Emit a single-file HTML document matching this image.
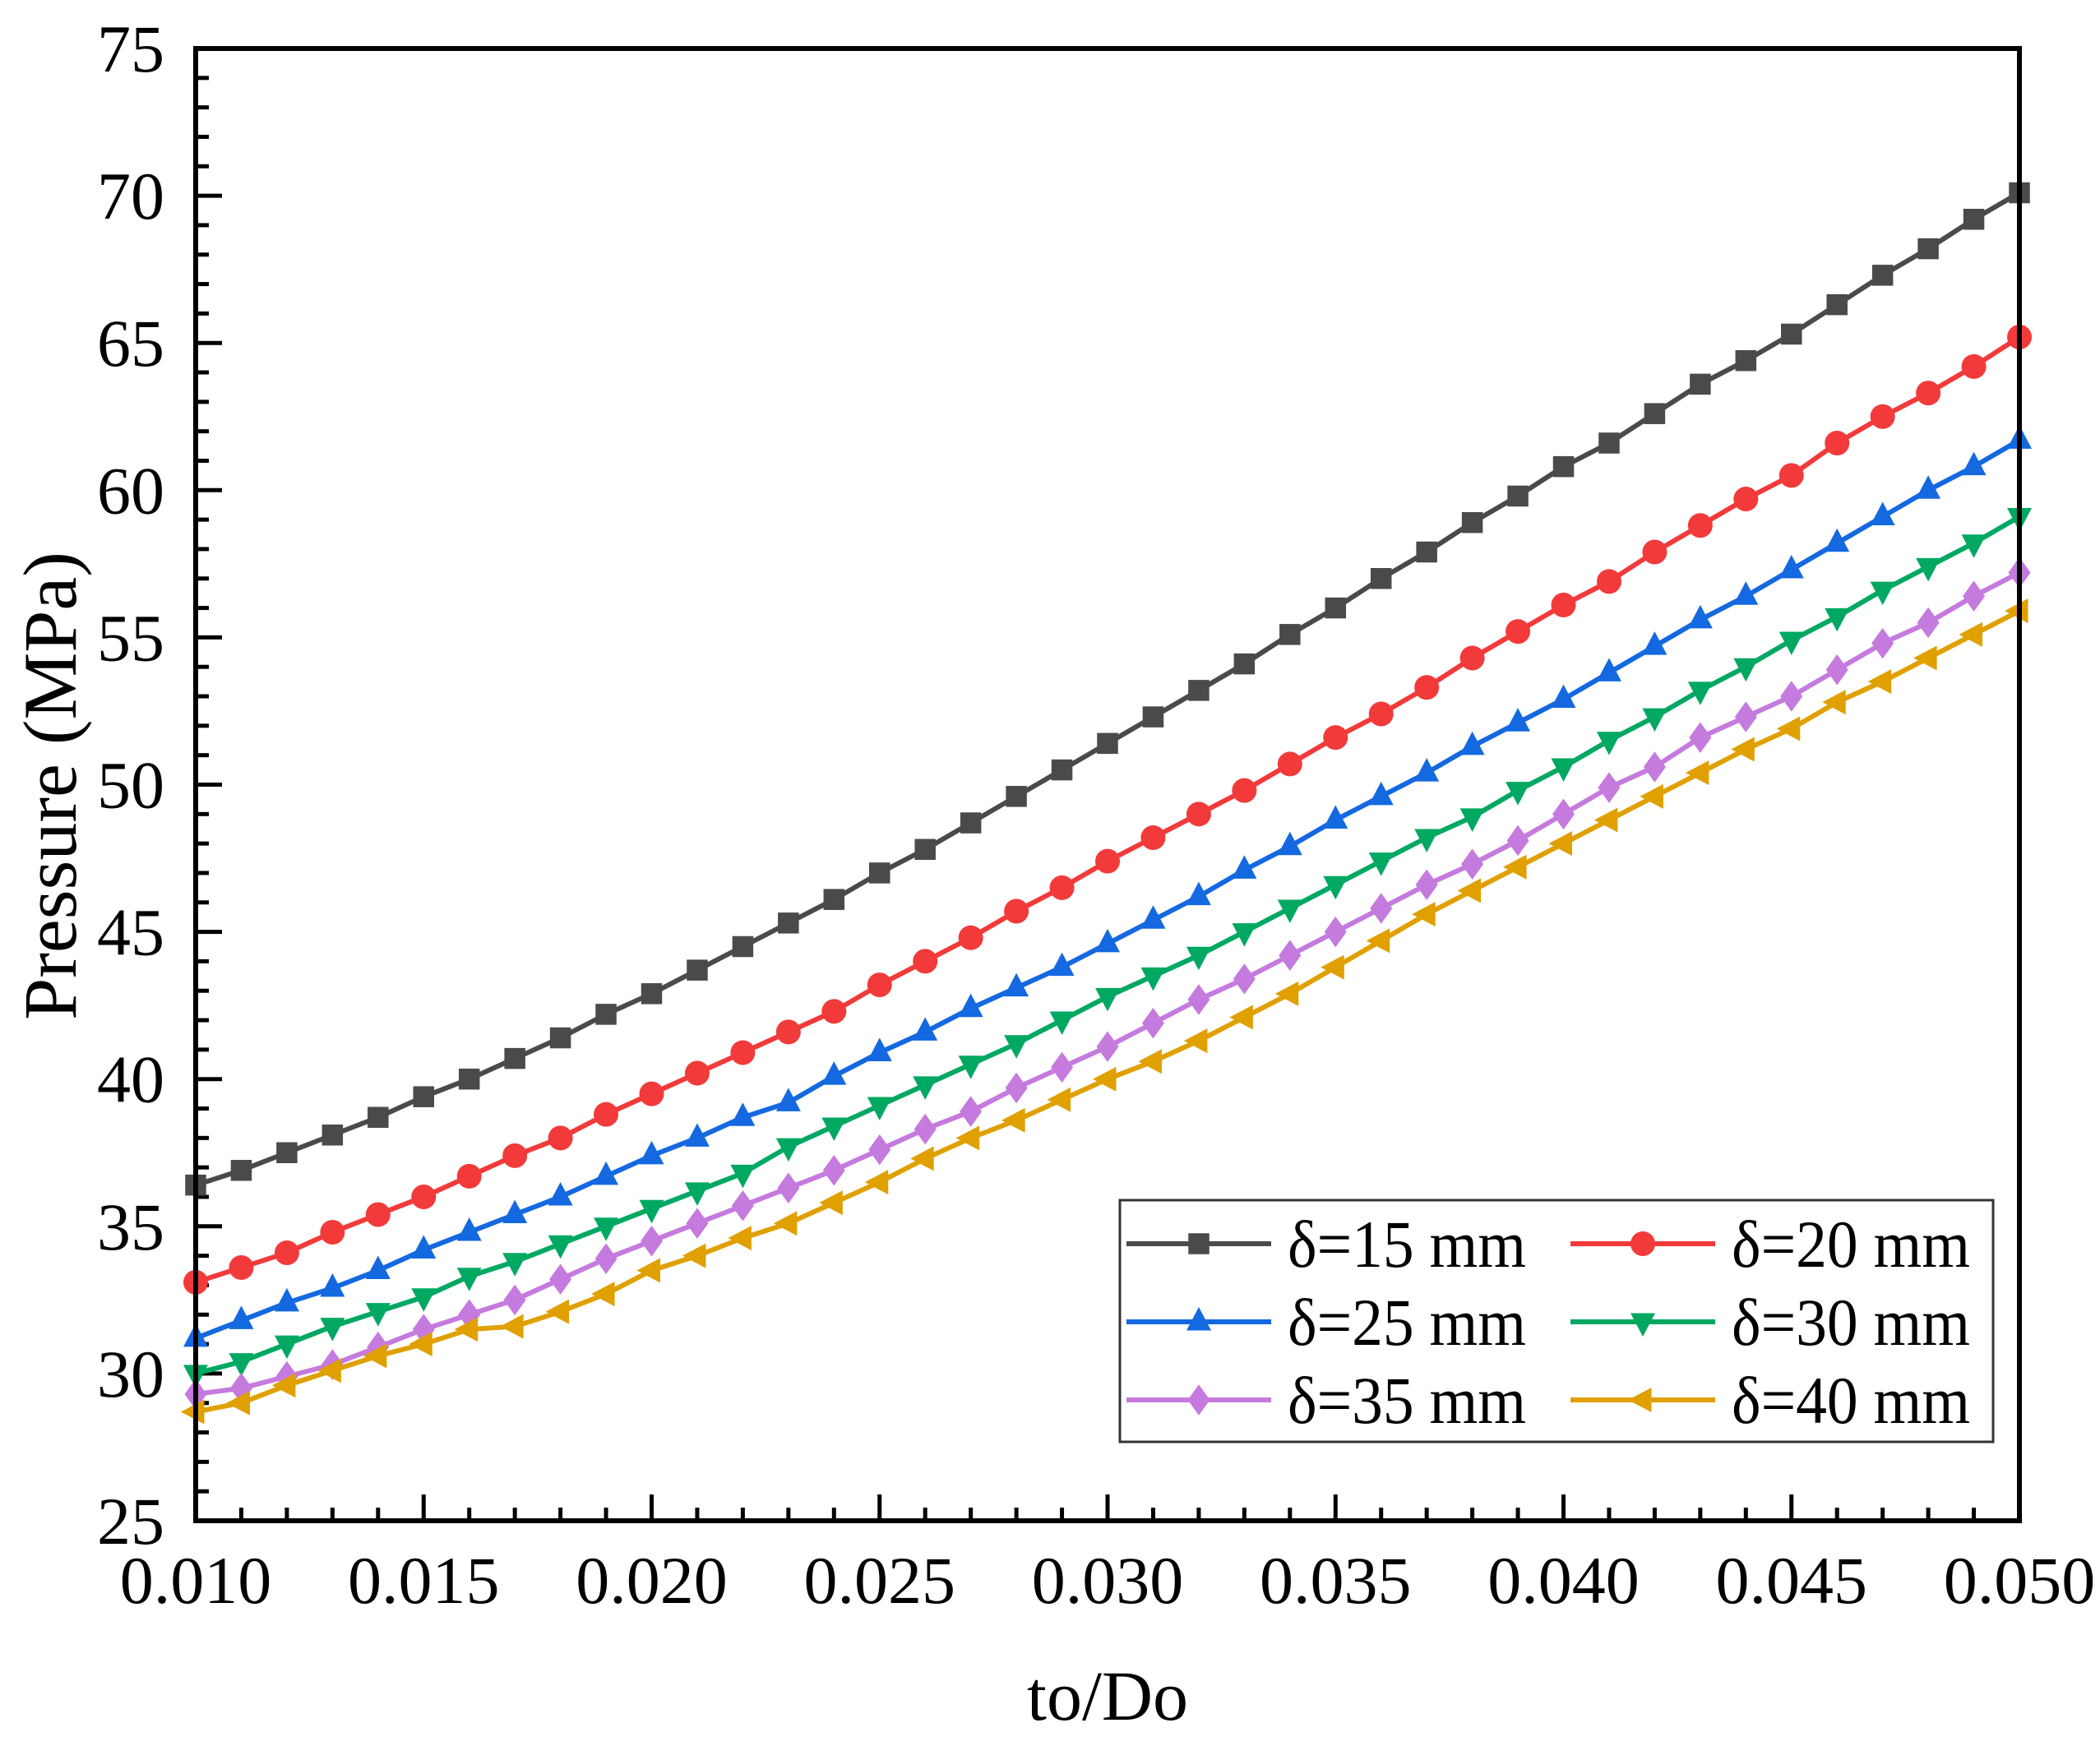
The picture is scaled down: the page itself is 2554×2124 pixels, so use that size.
<!DOCTYPE html>
<html><head><meta charset="utf-8"><style>
html,body{margin:0;padding:0;background:#fff;}
svg{display:block;font-family:"Liberation Serif",serif;}
</style></head><body>
<svg id="chart" width="2554" height="2124" viewBox="0 0 2554 2124" xmlns="http://www.w3.org/2000/svg">
<g id="ticks"></g>
<g id="series"></g>
<rect x="238" y="59" width="2218" height="1791" fill="none" stroke="#000" stroke-width="6"/>
<text x="1347" y="2092" font-size="86" text-anchor="middle">to/Do</text>
<text transform="translate(92,956) rotate(-90)" font-size="92" text-anchor="middle">Pressure (MPa)</text>
<g id="legend">
<rect x="1362" y="1460" width="1062" height="294" fill="#fff" stroke="#333" stroke-width="3"/>
</g>
</svg>
<script>
const xTicks=[0.010,0.015,0.020,0.025,0.030,0.035,0.040,0.045,0.050];
const xTickLabels=["0.010","0.015","0.020","0.025","0.030","0.035","0.040","0.045","0.050"];
const yTicks=[25,30,35,40,45,50,55,60,65,70,75];
const yTickLabels=["25","30","35","40","45","50","55","60","65","70","75"];
const seriesNames=["δ=15 mm","δ=20 mm","δ=25 mm","δ=30 mm","δ=35 mm","δ=40 mm"];
const s15=[36.4,36.9,37.5,38.1,38.7,39.4,40.0,40.7,41.4,42.2,42.9,43.7,44.5,45.3,46.1,47.0,47.8,48.7,49.6,50.5,51.4,52.3,53.2,54.1,55.1,56.0,57.0,57.9,58.9,59.8,60.8,61.6,62.6,63.6,64.4,65.3,66.3,67.3,68.2,69.2,70.1];
const s20=[33.1,33.6,34.1,34.8,35.4,36.0,36.7,37.4,38.0,38.8,39.5,40.2,40.9,41.6,42.3,43.2,44.0,44.8,45.7,46.5,47.4,48.2,49.0,49.8,50.7,51.6,52.4,53.3,54.3,55.2,56.1,56.9,57.9,58.8,59.7,60.5,61.6,62.5,63.3,64.2,65.2];
const s25=[31.2,31.8,32.4,32.9,33.5,34.2,34.8,35.4,36.0,36.7,37.4,38.0,38.7,39.2,40.1,40.9,41.6,42.4,43.1,43.8,44.6,45.4,46.2,47.1,47.9,48.8,49.6,50.4,51.3,52.1,52.9,53.8,54.7,55.6,56.4,57.3,58.2,59.1,60.0,60.8,61.7];
const s30=[30.0,30.4,31.0,31.6,32.1,32.6,33.3,33.8,34.4,35.0,35.6,36.2,36.8,37.7,38.4,39.1,39.8,40.5,41.2,42.0,42.8,43.5,44.2,45.0,45.8,46.6,47.4,48.2,48.9,49.8,50.6,51.5,52.3,53.2,54.0,54.9,55.7,56.6,57.4,58.2,59.1];
const s35=[29.3,29.5,29.9,30.3,30.9,31.5,32.0,32.5,33.2,33.9,34.5,35.1,35.7,36.3,36.9,37.6,38.3,38.9,39.7,40.4,41.1,41.9,42.7,43.4,44.2,45.0,45.8,46.6,47.3,48.1,49.0,49.9,50.6,51.6,52.3,53.0,53.9,54.8,55.5,56.4,57.2];
const s40=[28.7,29.0,29.6,30.1,30.6,31.0,31.5,31.6,32.1,32.7,33.5,34.0,34.6,35.1,35.8,36.5,37.3,38.0,38.6,39.3,40.0,40.6,41.3,42.1,42.9,43.8,44.7,45.6,46.4,47.2,48.0,48.8,49.6,50.4,51.2,51.9,52.8,53.5,54.3,55.1,55.9];
const xStart=0.010, xStep=0.001;

const NS="http://www.w3.org/2000/svg";
const X0=238,X1=2456,Y0=1850,Y1=59;
function xs(v){return X0+(v-0.010)/(0.040)*(X1-X0);}
function ys(v){return Y0-(v-25)/50*(Y0-Y1);}
function mk(tag,attrs,parent){const e=document.createElementNS(NS,tag);for(const k in attrs)e.setAttribute(k,attrs[k]);parent.appendChild(e);return e;}

const tg=document.getElementById('ticks');
for(let i=0;i<=40;i++){
  const v=0.010+i*0.001, major=i%5===0;
  const t=mk('line',{x1:xs(v),x2:xs(v),y1:Y0,y2:Y0-(major?32:16),stroke:'#000','stroke-width':5},tg);
  
  
}
for(let i=0;i<=50;i++){
  const v=25+i, major=i%5===0;
  const t=mk('line',{x1:X0,x2:X0+(major?32:16),y1:ys(v),y2:ys(v),stroke:'#000','stroke-width':5},tg);
  
  
}
xTicks.forEach((v,i)=>{
  const t=mk('text',{x:xs(v),y:1950,'font-size':82,'text-anchor':'middle'},tg);
  t.textContent=xTickLabels[i];
  
  
});
yTicks.forEach((v,i)=>{
  const t=mk('text',{x:200,y:ys(v)+28,'font-size':82,'text-anchor':'end'},tg);
  t.textContent=yTickLabels[i];
  
  
});

const colors=["#4a4a4a","#f23a3a","#1468e0","#00a862","#c57ade","#e0a000"];
const shapes=["square","circle","up","down","diamond","left"];
const allData=[s15,s20,s25,s30,s35,s40];
function marker(shape,cx,cy,r,col,parent){
  let e;
  if(shape==='square')e=mk('rect',{x:cx-r*0.85,y:cy-r*0.85,width:r*1.7,height:r*1.7,fill:col},parent);
  else if(shape==='circle')e=mk('circle',{cx:cx,cy:cy,r:r,fill:col},parent);
  else{
    let p;
    if(shape==='up')p=[[cx,cy-r*1.2],[cx+r,cy+r*0.7],[cx-r,cy+r*0.7]];
    else if(shape==='down')p=[[cx,cy+r*1.2],[cx+r,cy-r*0.7],[cx-r,cy-r*0.7]];
    else if(shape==='diamond')p=[[cx,cy-r*1.25],[cx+r*0.9,cy],[cx,cy+r*1.25],[cx-r*0.9,cy]];
    else p=[[cx-r*1.2,cy],[cx+r*0.7,cy-r],[cx+r*0.7,cy+r]];
    e=mk('polygon',{points:p.map(q=>q.join(',')).join(' '),fill:col},parent);
  }
  return e;
}
const sg=document.getElementById('series');
allData.forEach((d,si)=>{
  const g=mk('g',{},sg);
  
  
  const pts=d.map((v,i)=>[xs(xStart+i*xStep),ys(v)]);
  const l=mk('polyline',{points:pts.map(p=>p.join(',')).join(' '),fill:'none',stroke:colors[si],'stroke-width':6},g);
  
  
  pts.forEach(p=>{
    const m=marker(shapes[si],p[0],p[1],15,colors[si],g);
    
    
  });
});
const lg=document.getElementById('legend');
seriesNames.forEach((n,i)=>{
  const col=i%2, row=Math.floor(i/2);
  const lx=col?1910:1370, y=1513+row*95;
  const g=mk('g',{},lg);
  
  
  mk('line',{x1:lx,x2:lx+176,y1:y,y2:y,stroke:colors[i],'stroke-width':6},g);
  marker(shapes[i],lx+88,y,15,colors[i],g);
  const t=mk('text',{x:lx+196,y:y+28,'font-size':82,textLength:290,lengthAdjust:'spacingAndGlyphs'},g);
  t.textContent=n;
});
</script>
</body></html>
